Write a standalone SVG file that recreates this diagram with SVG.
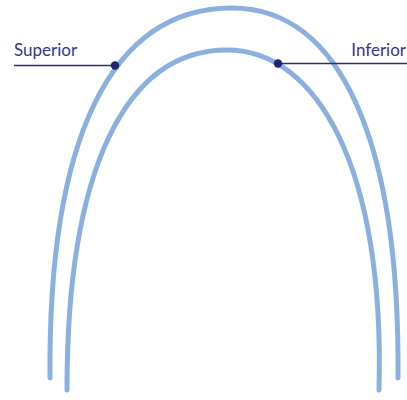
<svg xmlns="http://www.w3.org/2000/svg" width="407" height="400" viewBox="0 0 407 400">
<style>
.arch{fill:none;stroke:#8bb0e0;stroke-width:5;stroke-linecap:round}
.lead{stroke:#2b2d7c;stroke-width:1.5}
.dot{fill:#23246f}
.lbl{font-family:"Lato","Liberation Sans",sans-serif;font-size:17px;fill:#34358a}
</style>
<rect width="407" height="400" fill="#fff"/>
<g id="outer-arch"><path class="arch" d="M50,378 C48,140 110,8 232,8 C340,8 400,140 398,378"/></g>
<g id="inner-arch"><path class="arch" d="M67,390 C67,170 125,50 227,50 C318,50 385,170 379,390"/></g>
<g id="connectors">
<line class="lead" x1="14" y1="65.5" x2="115" y2="65.5"/>
<line class="lead" x1="278" y1="63.5" x2="407" y2="63.5"/>
</g>
<g id="superior"><circle class="dot" cx="115" cy="65.5" r="4.2"/><text class="lbl" x="14" y="56">Superior</text></g>
<g id="inferior"><circle class="dot" cx="278" cy="63.5" r="4.2"/><text class="lbl" x="406" y="56" text-anchor="end">Inferior</text></g>
</svg>
